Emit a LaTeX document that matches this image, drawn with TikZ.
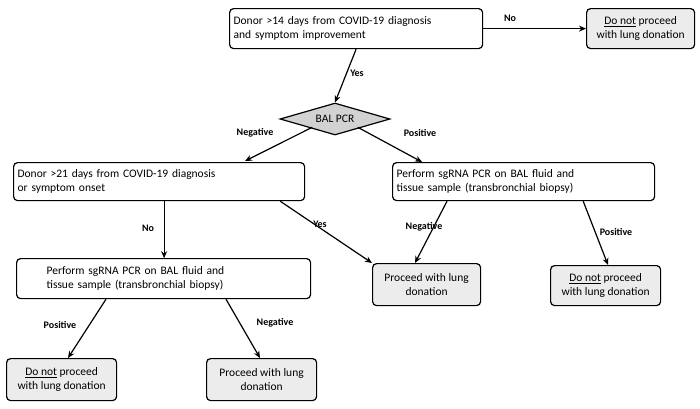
\documentclass[tikz,border=0pt]{standalone}
\usepackage{fontspec}
\setmainfont{Carlito}
\usetikzlibrary{shapes.geometric,arrows.meta}
\begin{document}
\begin{tikzpicture}[x=1pt,y=-1pt,
 box/.style={draw,rounded corners=4pt,line width=1.2pt,inner sep=3pt,font=\fontsize{11.5}{14}\selectfont},
 lbox/.style={box,align=left,anchor=north west},
 gbox/.style={box,fill=gray!15,align=center,anchor=north west},
 arr/.style={-{Stealth[length=7pt,width=6pt]},line width=1.2pt},
 lab/.style={font=\bfseries\fontsize{10}{12}\selectfont}]
\useasboundingbox (0,0) rectangle (700,408);
\node[lbox,minimum width=253pt,minimum height=40pt,text width=245pt] (top) at (229,8) {Donor >14 days from COVID-19 diagnosis\\and symptom improvement};
\node[gbox,minimum width=108pt,minimum height=40pt] (tr) at (586,8) {\underline{Do not} proceed\\with lung donation};
\node[diamond,draw,fill=gray!35,line width=1.2pt,minimum width=110pt,minimum height=32pt,aspect=3.4,inner sep=0pt,font=\fontsize{11.5}{14}\selectfont] (d) at (335,119) {BAL PCR};
\node[lbox,minimum width=291pt,minimum height=38pt,text width=283pt] (l1) at (13,162) {Donor >21 days from COVID-19 diagnosis\\or symptom onset};
\node[lbox,minimum width=262pt,minimum height=38pt,text width=254pt] (r1) at (392,162) {Perform sgRNA PCR on BAL fluid and\\tissue sample (transbronchial biopsy)};
\node[lbox,minimum width=294pt,minimum height=40pt,text width=286pt] (l2) at (16,258) {\hspace*{26pt}Perform sgRNA PCR on BAL fluid and\\\hspace*{26pt}tissue sample (transbronchial biopsy)};
\node[gbox,minimum width=108pt,minimum height=42pt] (pc) at (372,263) {Proceed with lung\\donation};
\node[gbox,minimum width=110pt,minimum height=40pt] (rb) at (550,265) {\underline{Do not} proceed\\with lung donation};
\node[gbox,minimum width=110pt,minimum height=42pt] (bl) at (6,358) {\underline{Do not} proceed\\with lung donation};
\node[gbox,minimum width=110pt,minimum height=42pt] (bm) at (206,358) {Proceed with lung\\donation};
\draw[arr] (top.east) -- (tr.west);
\node[lab] at (510,18) {No};
\draw[arr] (top.south) -- (d.north);
\node[lab] at (357,73) {Yes};
\draw[arr] (d.south west) ++(5,0) -- (245,161);
\node[lab] at (255,133) {Negative};
\draw[arr] (d.south east) ++(-5,0) -- (422,162);
\node[lab] at (420,133) {Positive};
\draw[arr] (l1.south) ++(5,0) -- ++(0,57);
\node[lab] at (148,228) {No};
\draw[arr] (l1.south east) ++(-25,0) -- (pc.north west);
\node[lab] at (320,224) {Yes};
\draw[arr] (r1.south west) ++(55,0) -- (415,263);
\node[lab] at (424,227) {Negative};
\draw[arr] (r1.south east) ++(-72,0) -- (608,265);
\node[lab] at (616,232) {Positive};
\draw[arr] (l2.south west) ++(90,0) -- (68,358);
\node[lab] at (60,325) {Positive};
\draw[arr] (l2.south west) ++(210,0) -- (260,358);
\node[lab] at (275,323) {Negative};
\end{tikzpicture}
\end{document}
